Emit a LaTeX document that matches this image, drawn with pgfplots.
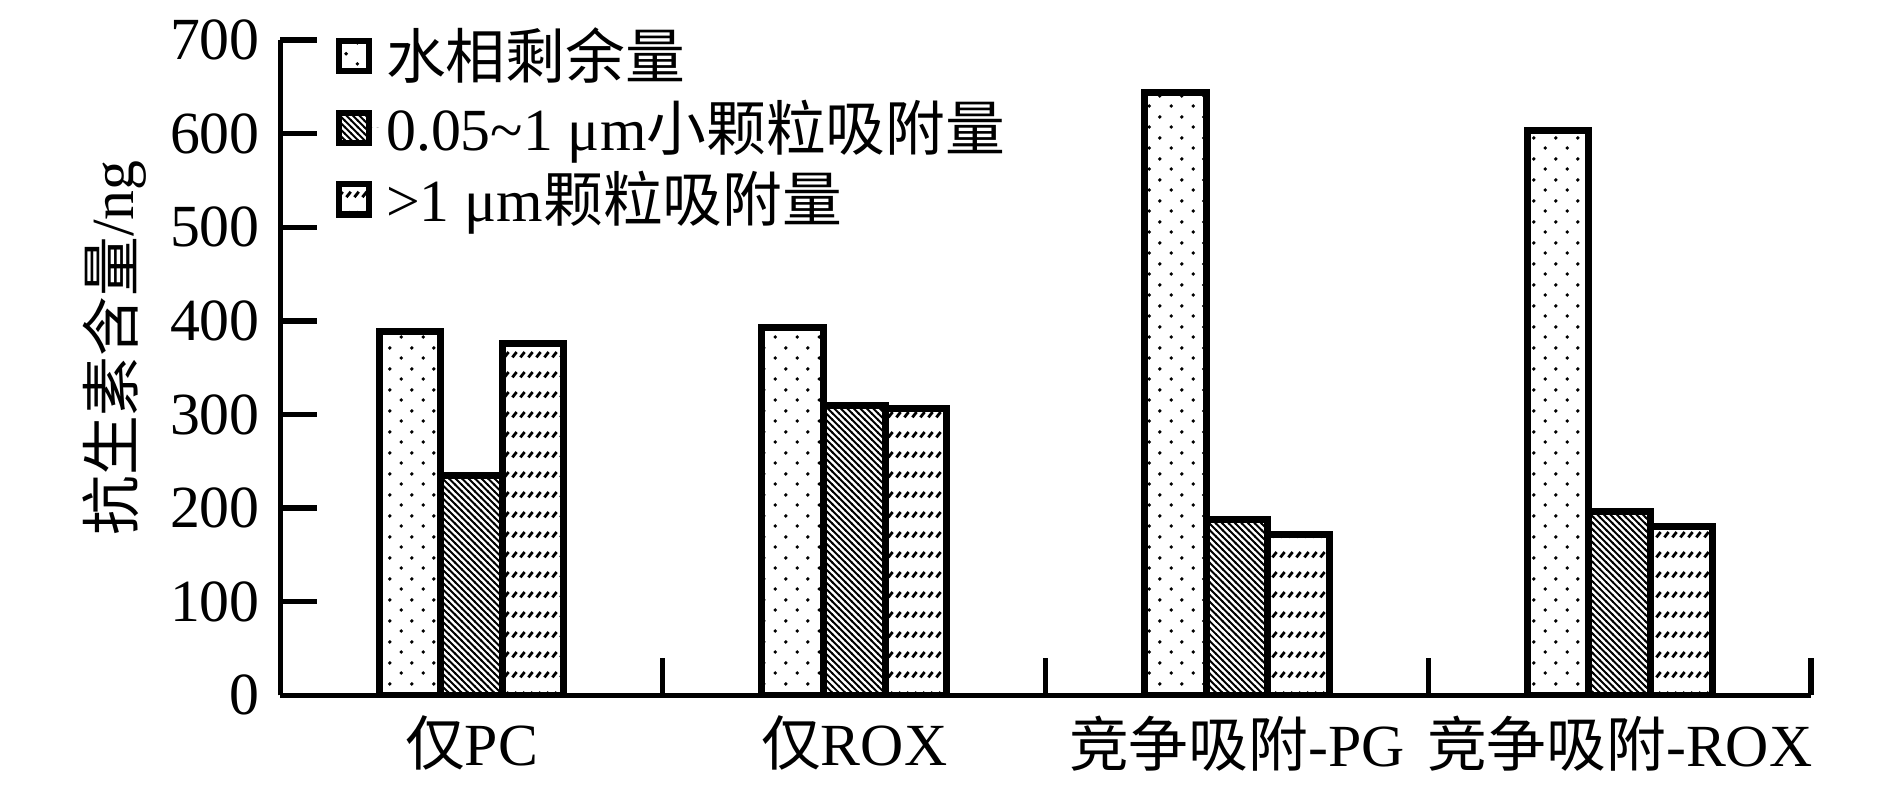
\documentclass[border=0pt]{standalone}
\usepackage{fontspec}
\setmainfont{Liberation Serif}
\newfontfamily\cjk{Noto Sans CJK SC}
\usepackage{pgfplots}
\pgfplotsset{compat=1.18}
\usetikzlibrary{patterns.meta}

% fill patterns of the three series
\tikzdeclarepattern{
  name=sparsedots,
  type=uncolored,
  bottom left={(0cm,0cm)},
  top right={(0.22cm,0.21cm)},
  tile size={(0.22cm,0.21cm)},
  code={
    \fill (0.055cm,0.0525cm) circle[radius=0.02cm];
    \fill (0.165cm,0.1575cm) circle[radius=0.02cm];
  }
}
\tikzdeclarepattern{
  name=densenw,
  type=uncolored,
  bottom left={(-0.01cm,-0.01cm)},
  top right={(0.075cm,0.075cm)},
  tile size={(0.065cm,0.065cm)},
  code={
    \draw[line width=0.55pt] (-0.01cm,0.075cm) -- (0.075cm,-0.01cm);
  }
}
\tikzdeclarepattern{
  name=slashrows,
  type=uncolored,
  bottom left={(0cm,0cm)},
  top right={(0.075cm,0.2cm)},
  tile size={(0.075cm,0.2cm)},
  code={
    \draw[line width=0.85pt] (0.015cm,0.07cm) -- (0.06cm,0.125cm);
  }
}

\newcommand{\bigfont}{\fontsize{17}{20}\selectfont}

\pgfplotsset{
  sqlegend/.style={
    legend image code/.code={
      \draw[##1, line width=1.8pt] (0cm,-0.15cm) rectangle (0.3cm,0.15cm);
      \path[draw=none] (0.3cm,0cm) -- (0.4cm,0cm);
    }
  },
}

\begin{document}
\begin{tikzpicture}[font=\bigfont]
\begin{axis}[
  scale only axis,
  width=15.3cm, height=6.55cm,
  ybar, bar width=0.161,
  xmin=-0.5, xmax=3.5,
  ymin=0, ymax=700,
  axis x line=bottom, axis y line=left,
  axis line style={line width=1.5pt, -},
  tick style={line width=1.5pt, black},
  tick align=inside,
  major tick length=0.37cm,
  xtick={-0.5,0.5,1.5,2.5,3.5},
  xticklabels={{\cjk 仅}PC, {\cjk 仅}ROX, {\cjk 竞争吸附}-PG, {\cjk 竞争吸附}-ROX},
  x tick label as interval,
  ytick={0,100,...,700},
  /pgf/number format/assume math mode=true,
  tick label style={font=\bigfont},
  xticklabel style={yshift=-0.08cm},
  yticklabel style={xshift=-0.08cm},
  ylabel={{\cjk 抗生素含量}/ng},
  ylabel style={font=\bigfont, at={(axis description cs:-0.108,0.53)}, anchor=center},
  legend style={draw=none, fill=none, font=\bigfont,
    at={(axis description cs:0.036,1.03)}, anchor=north west,
    inner sep=0pt, row sep=0.5pt},
  legend cell align=left,
]
\addplot[bar shift=-0.161, draw=black, line width=2pt, pattern=sparsedots, sqlegend]
  coordinates {(0,389) (1,393) (2,644) (3,603)};
\addlegendentry{{\cjk 水相剩余量}}
\addplot[bar shift=0, draw=black, line width=2pt, pattern=densenw, sqlegend]
  coordinates {(0,235) (1,310) (2,188) (3,196)};
\addlegendentry{0.05\textasciitilde 1 μm{\cjk 小颗粒吸附量}}
\addplot[bar shift=0.161, draw=black, line width=2pt, pattern=slashrows, sqlegend]
  coordinates {(0,376) (1,306) (2,172) (3,180)};
\addlegendentry{>1 μm{\cjk 颗粒吸附量}}
\end{axis}
\path (current axis.south west) ++(-2.80cm,-1.08cm)
  rectangle ([xshift=0.79cm,yshift=0.40cm]current axis.north east);
\end{tikzpicture}
\end{document}
